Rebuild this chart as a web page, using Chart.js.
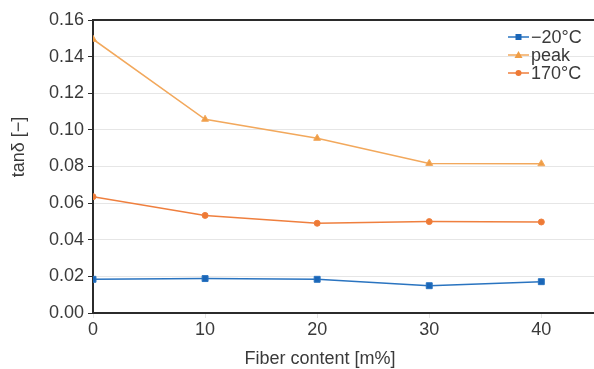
<!DOCTYPE html>
<html>
<head>
<meta charset="utf-8">
<script src="https://cdn.jsdelivr.net/npm/chart.js@4.4.0/dist/chart.umd.min.js"></script>
<style>
  html, body { margin: 0; padding: 0; background: #fff; }
  #wrap { width: 594px; height: 369px; }
</style>
</head>
<body>
<div id="wrap"><canvas id="tanChart" width="594" height="369"></canvas></div>
<script>
// fiber content [m%]
const fiberContent = [0, 10, 20, 30, 40];
// tan delta
const tanMinus20 = [0.0184, 0.0188, 0.0184, 0.0149, 0.0171];
const tanPeak = [0.1495, 0.1058, 0.0954, 0.0817, 0.0815];
const tan170 = [0.0635, 0.0533, 0.0490, 0.0499, 0.0497];
const seriesNames = ["\u221220\u00b0C", "peak", "170\u00b0C"];
const yTicks = [0, 0.02, 0.04, 0.06, 0.08, 0.10, 0.12, 0.14, 0.16];

const FONT = "'Liberation Sans', Arial, sans-serif";
const TXT = "#3a3a3a";
const AXIS = "#2b2b2b";

function toPoints(vals) {
  return fiberContent.map((x, i) => ({ x: x, y: vals[i] }));
}

// frame top line + axis titles + line/marker legend
const extras = {
  id: "extras",
  afterDraw(chart) {
    const ctx = chart.ctx;
    const a = chart.chartArea;
    ctx.save();
    ctx.strokeStyle = AXIS;
    ctx.lineWidth = 2;
    ctx.beginPath();
    ctx.moveTo(a.left - 1, a.top);
    ctx.lineTo(a.right, a.top);
    ctx.stroke();

    ctx.fillStyle = TXT;
    ctx.font = "18px " + FONT;
    ctx.textAlign = "center";
    ctx.textBaseline = "middle";
    ctx.fillText("Fiber content [m%]", 320, 359);
    ctx.translate(19, 147);
    ctx.rotate(-Math.PI / 2);
    ctx.fillText("tan\u03b4 [\u2212]", 0, 0);
    ctx.restore();

    // legend
    ctx.save();
    ctx.font = "18px " + FONT;
    ctx.textAlign = "left";
    ctx.textBaseline = "middle";
    chart.data.datasets.forEach((ds, i) => {
      const y = 37 + i * 18;
      ctx.strokeStyle = ds.borderColor;
      ctx.lineWidth = 1.5;
      ctx.beginPath();
      ctx.moveTo(508, y);
      ctx.lineTo(529, y);
      ctx.stroke();
      ctx.fillStyle = ds.backgroundColor;
      const cx = 518.5;
      if (ds.pointStyle === "rect") {
        ctx.fillRect(cx - 3, y - 3, 6, 6);
      } else if (ds.pointStyle === "triangle") {
        ctx.beginPath();
        ctx.moveTo(cx, y - 4);
        ctx.lineTo(cx + 4, y + 3);
        ctx.lineTo(cx - 4, y + 3);
        ctx.closePath();
        ctx.fill();
      } else {
        ctx.beginPath();
        ctx.arc(cx, y, 3, 0, Math.PI * 2);
        ctx.fill();
      }
      ctx.fillStyle = TXT;
      ctx.fillText(ds.label, 531, y + 1);
    });
    ctx.restore();
  }
};

new Chart(document.getElementById("tanChart"), {
  type: "line",
  data: {
    datasets: [
      {
        label: seriesNames[0],
        data: toPoints(tanMinus20),
        borderColor: "#2a74c0",
        backgroundColor: "#1a66b8",
        pointStyle: "rect",
        pointRadius: 4.2,
        pointBorderWidth: 1,
        borderWidth: 1.5
      },
      {
        label: seriesNames[1],
        data: toPoints(tanPeak),
        borderColor: "#f2a85c",
        backgroundColor: "#ef9d45",
        pointStyle: "triangle",
        pointRadius: 4,
        pointBorderWidth: 1,
        borderWidth: 1.5
      },
      {
        label: seriesNames[2],
        data: toPoints(tan170),
        borderColor: "#ef7f3e",
        backgroundColor: "#ee7a35",
        pointStyle: "circle",
        pointRadius: 3,
        pointBorderWidth: 1,
        borderWidth: 1.5
      }
    ]
  },
  options: {
    responsive: false,
    animation: false,
    layout: { autoPadding: false, padding: { left: 0, right: 0, top: 20, bottom: 0 } },
    plugins: { legend: { display: false }, tooltip: { enabled: false } },
    scales: {
      x: {
        type: "linear",
        min: 0,
        max: 44.7,
        afterFit(scale) { scale.height = 56; },
        border: { display: true, color: AXIS, width: 2 },
        grid: { display: true, drawOnChartArea: false, tickLength: 5, tickColor: "#e4e4e4" },
        ticks: {
          stepSize: 10,
          includeBounds: false,
          color: TXT,
          font: { family: FONT, size: 18 },
          padding: 1,
          maxRotation: 0
        }
      },
      y: {
        min: 0,
        max: 0.16,
        afterFit(scale) { scale.width = 93; },
        afterBuildTicks(scale) { scale.ticks = yTicks.map(v => ({ value: v })); },
        border: { display: true, color: AXIS, width: 2 },
        grid: {
          color: (c) => (c.tick && (c.tick.value === 0 || c.tick.value === 0.16)) ? "rgba(0,0,0,0)" : "#e6e6e6",
          tickColor: AXIS,
          tickLength: 5,
          lineWidth: 1
        },
        ticks: {
          color: TXT,
          font: { family: FONT, size: 18 },
          padding: 4,
          callback: (v) => Number(v).toFixed(2)
        }
      }
    }
  },
  plugins: [extras]
});
</script>
</body>
</html>
